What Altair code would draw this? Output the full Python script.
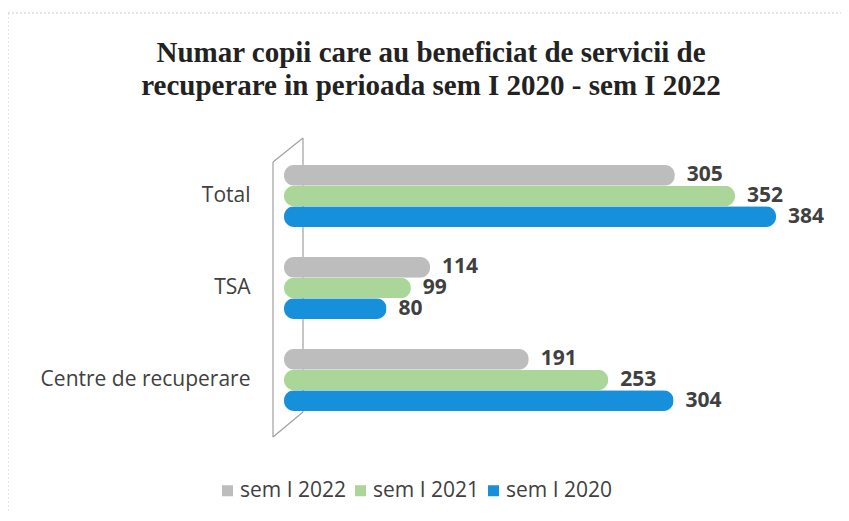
import altair as alt
import pandas as pd

title_lines = ["Numar copii care au beneficiat de servicii de",
               "recuperare in perioada sem I 2020 - sem I 2022"]
categories = ["Total", "TSA", "Centre de recuperare"]
series = ["sem I 2022", "sem I 2021", "sem I 2020"]
values_2022 = [305, 114, 191]
values_2021 = [352, 99, 253]
values_2020 = [384, 80, 304]
colors = ["#bdbdbd", "#aad69a", "#1690da"]

rows = []
for s, vals in zip(series, [values_2022, values_2021, values_2020]):
    for c, v in zip(categories, vals):
        rows.append({"cat": c, "serie": s, "val": v})
df = pd.DataFrame(rows)

one = pd.DataFrame({"a": [0]})

y_enc = alt.Y("cat:N", sort=categories, title=None,
              scale=alt.Scale(paddingInner=0.326, paddingOuter=0.163),
              axis=alt.Axis(domain=False, ticks=False, labelFontSize=21, labelFont="Open Sans",
                            labelColor="#404040", labelPadding=34, labelLimit=400))
yoff = alt.YOffset("serie:N", sort=series, scale=alt.Scale(paddingInner=0, paddingOuter=0))
x_enc = alt.X("val:Q", axis=None, scale=alt.Scale(domain=[0, 430], nice=False))

wall_color = "#a0a0a0"


def seg(x1, y1, x2, y2, color=wall_color, dash=None, width=1.2):
    kw = {"color": color, "strokeWidth": width}
    if dash:
        kw["strokeDash"] = dash
    return alt.Chart(one).mark_rule(**kw).encode(
        x=alt.value(x1), x2=alt.value(x2), y=alt.value(y1), y2=alt.value(y2))


wall = alt.layer(
    seg(-11, 12, -11, 287),
    seg(19, -12, 19, 262),
    seg(-11, 12, 19, -12),
    seg(-11, 287, 19, 262),
)

border = alt.layer(
    seg(-276, -137, 565, -137, color="#cccccc", dash=[2, 2], width=1),
    seg(-276, -137, -276, 371, color="#cccccc", dash=[2, 2], width=1),
)

title_df = pd.DataFrame({"line": title_lines, "pos": [0, 1]})
title = alt.layer(*[
    alt.Chart(title_df.iloc[[i]]).mark_text(
        font="Liberation Serif", fontSize=29, fontWeight="bold", color="#222222",
        align="center", baseline="alphabetic").encode(
        text="line:N", x=alt.value(147), y=alt.value(-88 + 33 * i))
    for i in range(2)
])

bars = alt.Chart(df).mark_bar(cornerRadius=10).encode(
    y=y_enc, yOffset=yoff, x=x_enc,
    color=alt.Color("serie:N", sort=series,
                    scale=alt.Scale(domain=series, range=colors),
                    legend=alt.Legend(title=None, orient="none", direction="horizontal",
                                      legendX=-67, legendY=330, symbolType="square",
                                      symbolSize=121, symbolStrokeWidth=0,
                                      labelFontSize=21, labelFont="Open Sans",
                                      labelColor="#404040", columnPadding=3,
                                      labelOffset=2, symbolOpacity=1)),
)

labels = alt.Chart(df).mark_text(align="left", baseline="middle", dx=12, font="Open Sans",
                                 fontWeight="bold", fontSize=21, color="#404040").encode(
    y=alt.Y("cat:N", sort=categories), yOffset=alt.YOffset("serie:N", sort=series), x="val:Q",
    text="val:Q")

chart = alt.layer(border, title, wall, bars, labels).properties(
    width=551, height=276,
    padding={"left": 276, "top": 142, "right": 6, "bottom": 87},
    autosize=alt.AutoSizeParams(type="none"),
    background="white",
).configure_view(stroke="transparent", strokeWidth=0)

chart.save("out.html", embed_options={"renderer": "svg", "actions": False})
